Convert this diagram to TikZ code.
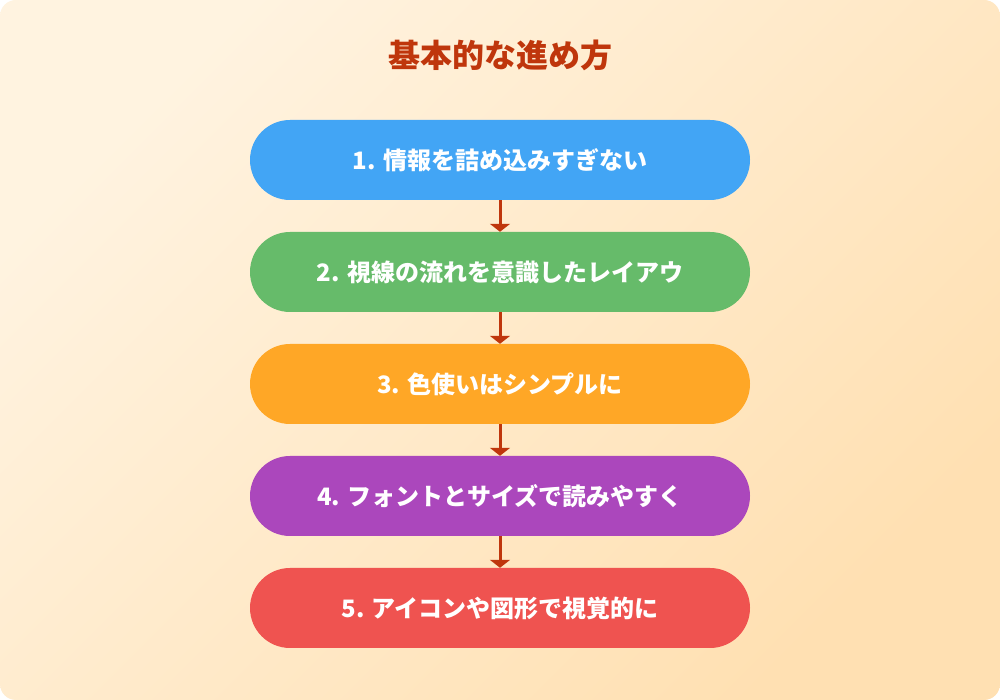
\documentclass[tikz,border=0pt]{standalone}
\usepackage{fontspec}
\setmainfont{Noto Sans CJK JP}
\usetikzlibrary{arrows.meta}

\definecolor{bgA}{HTML}{FFF3E0}
\definecolor{bgB}{HTML}{FFE0B2}
\definecolor{titlered}{HTML}{BF360C}
\definecolor{boxblue}{HTML}{42A5F5}
\definecolor{boxgreen}{HTML}{66BB6A}
\definecolor{boxorange}{HTML}{FFA726}
\definecolor{boxpurple}{HTML}{AB47BC}
\definecolor{boxred}{HTML}{EF5350}

\tikzset{
  stepbox/.style={rectangle, rounded corners=40pt, minimum width=500pt, minimum height=80pt,
    text=white, font=\bfseries\fontsize{24}{28}\selectfont, inner sep=0pt},
  flowarrow/.style={draw=titlered, line width=3pt, -{Triangle[width=20pt,length=8pt]}}
}

\begin{document}
\begin{tikzpicture}[x=1pt,y=1pt]
        \useasboundingbox (0,0) rectangle (1000,700);
        \fill[white] (0,0) rectangle (1000,700);
        \shade[rounded corners=16pt, top color=bgA, bottom color=bgB, shading angle=45] (0,0) rectangle (1000,700);

        \node[text=titlered, font=\bfseries\fontsize{32}{36}\selectfont] (title) at (500,645) {基本的な進め方};

        \node[stepbox, fill=boxblue] (s1) at (500,540) {1. 情報を詰め込みすぎない};
        \node[stepbox, fill=boxgreen] (s2) at (500,428) {2. 視線の流れを意識したレイアウ};
        \node[stepbox, fill=boxorange] (s3) at (500,316) {3. 色使いはシンプルに};
        \node[stepbox, fill=boxpurple] (s4) at (500,204) {4. フォントとサイズで読みやすく};
        \node[stepbox, fill=boxred] (s5) at (500,92) {5. アイコンや図形で視覚的に};

        \draw[flowarrow] (s1.south) -- (s2.north);
        \draw[flowarrow] (s2.south) -- (s3.north);
        \draw[flowarrow] (s3.south) -- (s4.north);
        \draw[flowarrow] (s4.south) -- (s5.north);
    \end{tikzpicture}
\end{document}
